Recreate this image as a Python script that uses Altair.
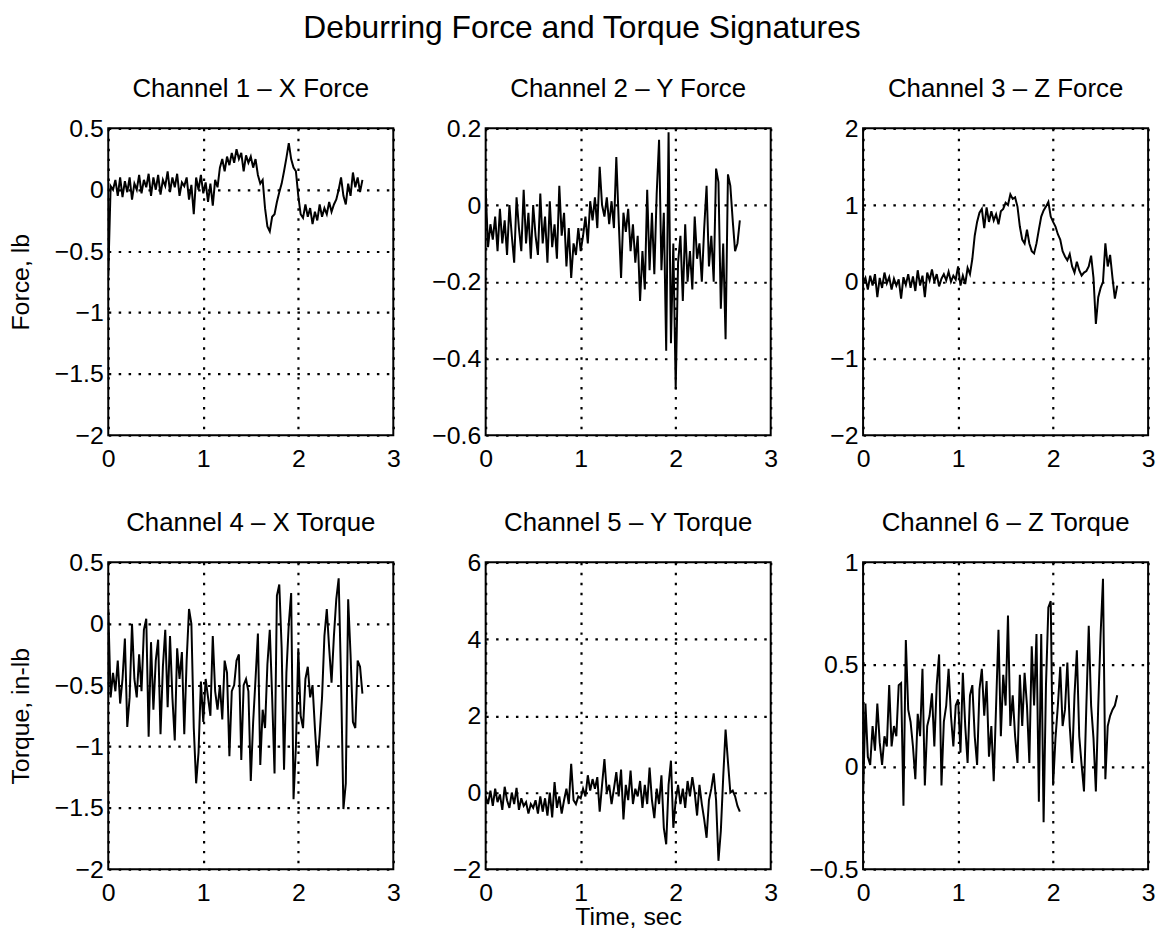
import altair as alt
import pandas as pd

# sample times (s)
t = [round(i * 0.025, 3) for i in range(108)]

titles = ["Channel 1 – X Force", "Channel 2 – Y Force", "Channel 3 – Z Force",
          "Channel 4 – X Torque", "Channel 5 – Y Torque", "Channel 6 – Z Torque"]

ch1 = [-0.7, 0.03, 0.0, 0.08, -0.05, 0.1, -0.06, 0.07, -0.02, 0.1,
       -0.08, 0.05, 0.0, 0.12, -0.03, 0.08, 0.02, 0.13, -0.05, 0.1,
       0.0, 0.12, -0.04, 0.08, 0.03, 0.15, -0.02, 0.1, 0.02, 0.13,
       -0.05, 0.06, 0.03, 0.1, -0.08, 0.04, -0.2, 0.1, 0.0, 0.12,
       -0.03, 0.06, -0.1, 0.05, -0.13, 0.08, 0.02, 0.18, 0.25, 0.15,
       0.27, 0.2, 0.3, 0.22, 0.33, 0.25, 0.3, 0.15, 0.28, 0.22,
       0.27, 0.18, 0.25, 0.12, 0.05, 0.08, -0.15, -0.3, -0.34, -0.22,
       -0.2, -0.1, -0.02, 0.05, 0.15, 0.26, 0.38, 0.25, 0.18, 0.15,
       -0.05, -0.2, -0.23, -0.12, -0.22, -0.15, -0.28, -0.18, -0.25, -0.12,
       -0.22, -0.15, -0.2, -0.1, -0.18, -0.12, -0.08, 0.0, 0.1, -0.05,
       -0.12, 0.05, -0.05, 0.14, 0.02, 0.1, -0.02, 0.08]

ch2 = [0.04, -0.11, -0.05, -0.09, -0.03, -0.12, -0.01, -0.1, -0.04, -0.13,
       0.0, -0.08, -0.15, 0.02, -0.06, -0.12, 0.04, -0.1, -0.02, -0.14,
       0.0, -0.08, -0.13, 0.03, -0.1, -0.03, -0.15, 0.01, -0.11, -0.05,
       -0.14, 0.05, -0.08, -0.02, -0.16, -0.06, -0.19, -0.1, -0.13, -0.06,
       -0.12, -0.08, -0.03, -0.1, 0.01, -0.04, 0.02, -0.06, 0.1, 0.0,
       -0.03, 0.02, -0.05, 0.01, -0.06, 0.125, -0.04, -0.19, -0.02, -0.07,
       -0.01, -0.12, -0.05, -0.15, -0.08, -0.25, -0.12, -0.22, 0.04, -0.17,
       -0.02, -0.18, 0.03, 0.17, -0.17, -0.02, -0.38, 0.19, -0.36, -0.1,
       -0.48, -0.15, -0.08, -0.25, -0.05, -0.2, -0.12, -0.22, -0.03, -0.14,
       -0.1, -0.2, -0.06, 0.05, -0.16, -0.08, -0.2, 0.095, 0.06, -0.27,
       -0.1, -0.35, 0.08, 0.05, -0.04, -0.12, -0.1, -0.04]

ch3 = [-0.02, 0.05, -0.1, 0.08, -0.05, 0.1, -0.2, 0.05, -0.08, 0.12,
       -0.02, 0.06, -0.1, 0.04, -0.05, 0.03, -0.22, 0.06, -0.04, 0.1,
       -0.08, 0.07, -0.12, 0.15, -0.05, 0.08, -0.2, 0.12, 0.02, 0.16,
       0.0, 0.1, -0.06, 0.04, 0.1, 0.02, 0.13, 0.0, 0.08, 0.03,
       0.2, -0.05, 0.08, -0.03, 0.18, 0.1, 0.3, 0.6, 0.78, 0.9,
       0.95, 0.7, 0.97, 0.78, 0.92, 0.8, 0.88, 0.75, 0.92, 0.95,
       1.03, 1.0, 1.14, 1.08, 1.1, 0.98, 0.72, 0.55, 0.5, 0.68,
       0.5, 0.4, 0.37, 0.5, 0.68, 0.85, 0.93, 0.98, 1.04, 0.85,
       0.78, 0.72, 0.62, 0.55, 0.4, 0.33, 0.28, 0.36, 0.2, 0.12,
       0.26, 0.15, 0.08, 0.12, 0.14, 0.2, 0.34, 0.05, -0.55, -0.2,
       -0.08, 0.0, 0.5, 0.2, 0.35, 0.05, -0.22, -0.05]

ch4 = [0.12, -0.6, -0.4, -0.55, -0.3, -0.65, -0.45, -0.12, -0.84, -0.6,
       0.0, -0.45, -0.6, -0.25, -0.55, -0.05, 0.04, -0.92, -0.15, -0.7,
       -0.3, -0.13, -0.9, -0.35, -0.05, -0.68, -0.1, -0.6, -0.95, -0.2,
       -0.45, -0.23, -0.9, -0.3, 0.12, 0.0, -0.85, -1.3, -1.05, -0.47,
       -0.8, -0.45, -0.6, -0.75, -0.1, -0.55, -0.7, -0.5, -0.78, -0.3,
       -0.4, -1.08, -0.55, -0.5, -0.3, -0.25, -1.11, -0.5, -0.45, -0.55,
       -1.28, -0.8, -0.45, -0.08, -1.15, -0.7, -0.85, -0.33, -0.05, -0.6,
       -1.22, 0.23, 0.32, -0.2, -1.19, -0.4, 0.0, 0.25, -1.43, -1.0,
       -0.2, -0.75, -0.85, -0.45, -0.35, -0.6, -0.5, -0.85, -1.16, -0.9,
       -0.6, -0.1, 0.12, -0.2, -0.48, -0.1, 0.2, 0.37, -0.45, -1.51,
       -1.3, 0.2, -0.25, -0.8, -0.85, -0.3, -0.35, -0.57]

ch5 = [-0.1, -0.3, 0.05, -0.35, 0.1, -0.25, -0.05, -0.45, 0.15, -0.2,
       -0.4, 0.0, -0.3, 0.12, -0.45, -0.15, -0.35, -0.25, -0.55, -0.3,
       -0.4, -0.2, -0.55, -0.1, -0.5, -0.15, -0.6, 0.0, -0.65, 0.27,
       -0.4, -0.1, -0.55, -0.2, 0.1, -0.3, 0.75, -0.2, -0.3, -0.1,
       -0.15, 0.1, -0.1, 0.45, 0.05, 0.35, 0.1, 0.4, -0.5, 0.2,
       0.87, 0.0, 0.2, -0.3, 0.1, 0.53, -0.1, 0.6, -0.7, 0.2,
       -0.2, 0.57, -0.3, 0.1, -0.1, 0.3, -0.4, 0.2, -0.3, 0.65,
       -0.2, -0.67, 0.1, -0.3, 0.45, -0.92, -1.35, 0.2, 0.83, -0.92,
       -0.2, 0.2, -0.3, 0.1, -0.4, 0.3, -0.1, 0.4, 0.0, -0.6,
       0.2, -0.3, -0.7, -1.18, -0.2, 0.1, 0.5, -0.2, -1.78, -1.0,
       0.4, 1.64, 0.8, 0.0, 0.05, -0.1, -0.35, -0.5]

ch6 = [-0.14, 0.31, 0.05, 0.01, 0.2, 0.08, 0.31, 0.12, 0.01, 0.15,
       0.1, 0.4, 0.1, 0.2, 0.15, 0.4, 0.41, -0.19, 0.62, 0.28,
       0.22, 0.1, -0.06, 0.26, 0.15, 0.48, -0.09, 0.2, 0.25, 0.36,
       0.1, 0.4, 0.55, -0.09, 0.22, 0.3, 0.48, 0.25, 0.1, 0.3,
       0.33, 0.07, 0.46, 0.2, 0.02, 0.35, 0.4, 0.15, 0.01, 0.38,
       0.48, 0.25, 0.42, 0.05, 0.2, -0.07, 0.3, 0.67, 0.15, 0.45,
       0.3, 0.74, 0.2, 0.35, 0.15, 0.02, 0.45, 0.2, 0.46, 0.3,
       0.02, 0.59, 0.3, 0.65, -0.17, 0.65, -0.27, 0.4, 0.78, 0.81,
       -0.09, 0.14, 0.3, 0.49, 0.2, 0.28, 0.51, 0.2, 0.02, 0.35,
       0.57, 0.15, 0.01, -0.12, 0.3, 0.69, 0.3, 0.14, -0.12, 0.3,
       0.65, 0.92, -0.06, 0.2, 0.25, 0.28, 0.3, 0.35]

series = [ch1, ch2, ch3, ch4, ch5, ch6]
x_ticks = [0, 1, 2, 3]
y_domains = [[-2, 0.5], [-0.6, 0.2], [-2, 2], [-2, 0.5], [-2, 6], [-0.5, 1]]
y_ticks = [[0.5, 0, -0.5, -1, -1.5, -2], [0.2, 0, -0.2, -0.4, -0.6], [2, 1, 0, -1, -2],
           [0.5, 0, -0.5, -1, -1.5, -2], [6, 4, 2, 0, -2], [1, 0.5, 0, -0.5]]
y_titles = ["Force, lb", None, None, "Torque, in-lb", None, None]
x_titles = [None, None, None, None, "Time, sec", None]

FONT = "Liberation Sans"
LABEL = 25
panels = []
for i in range(6):
    df = pd.DataFrame({"t": t, "v": series[i]})
    xax = alt.Axis(values=x_ticks, format="d", grid=True, gridColor="black",
                   gridDash=[2.5, 7.5], gridWidth=2.2, gridOpacity=1,
                   labelFlush=False, labelOverlap=False, ticks=False, domain=False,
                   labelFontSize=LABEL, labelFont=FONT, labelColor="black", labelPadding=11,
                   titleFontSize=LABEL, titleFont=FONT, titleFontWeight="normal",
                   titleColor="black", titlePadding=0)
    yax = alt.Axis(values=y_ticks[i], format="~g", grid=True, gridColor="black",
                   gridDash=[2.5, 7.5], gridWidth=2.2, gridOpacity=1,
                   labelFlush=False, labelOverlap=False, ticks=False, domain=False,
                   labelFontSize=LABEL, labelFont=FONT, labelColor="black", labelPadding=5,
                   titleFontSize=LABEL, titleFont=FONT, titleFontWeight="normal",
                   titleColor="black", titleX=-75)
    ch = alt.Chart(df).mark_line(color="black", strokeWidth=2, clip=True).encode(
        x=alt.X("t:Q", scale=alt.Scale(domain=[0, 3], nice=False, zero=False),
                axis=xax, title=x_titles[i]),
        y=alt.Y("v:Q", scale=alt.Scale(domain=y_domains[i], nice=False, zero=False),
                axis=yax, title=y_titles[i]),
    ).properties(
        width=287, height=309,
        title=alt.TitleParams(titles[i], fontSize=26, font=FONT, fontWeight="normal",
                              color="black", offset=15, anchor="middle"),
    )
    panels.append(ch)

chart = alt.concat(*panels, columns=3, spacing={"row": 128, "column": 93}, bounds="flush").properties(
    title=alt.TitleParams("Deburring Force and Torque Signatures", fontSize=32, font=FONT,
                          fontWeight="normal", color="black", anchor="middle", offset=30),
    padding={"left": 8, "top": 9, "right": 10, "bottom": 4},
    background="white",
).configure_view(stroke="black", strokeWidth=2)

chart.save("out.html", embed_options={"renderer": "svg", "actions": False})
